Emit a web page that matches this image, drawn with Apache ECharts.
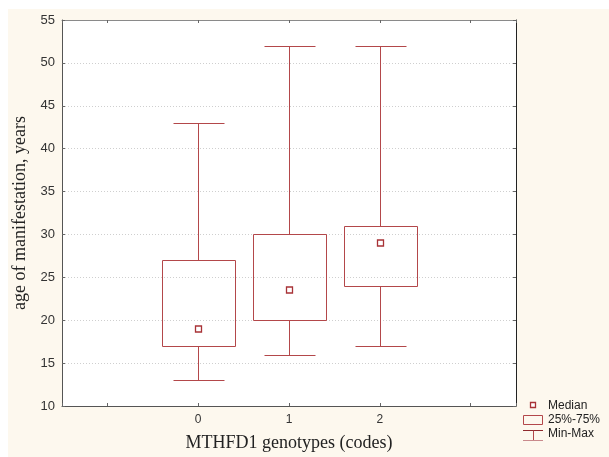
<!DOCTYPE html>
<html>
<head>
<meta charset="utf-8">
<script src="https://cdn.jsdelivr.net/npm/echarts@6/dist/echarts.min.js"></script>
<style>
  html, body { margin: 0; padding: 0; background: #fff; }
  #chart { width: 609px; height: 457px; }
</style>
</head>
<body>
<div id="chart"></div>
<script>
// box plot data
const genotypes = [0, 1, 2];
const minVals = [13, 16, 17];
const q1Vals = [17, 20, 24];
const medianVals = [19, 23.5, 29];
const q3Vals = [27, 30, 31];
const maxVals = [43, 52, 52];
const xTickLabels = ['0', '1', '2'];

const boxColor = '#b3474a';
const sans = '"Liberation Sans", Arial, sans-serif';
const serif = '"Liberation Serif", "Times New Roman", serif';

const rows = genotypes.map((g, i) => [g, minVals[i], q1Vals[i], medianVals[i], q3Vals[i], maxVals[i]]);

function px(v) { return Math.round(v) + 0.5; }

function renderBox(params, api) {
    const x = api.value(0);
    const pMin = api.coord([x, api.value(1)]);
    const pQ1 = api.coord([x, api.value(2)]);
    const pMed = api.coord([x, api.value(3)]);
    const pQ3 = api.coord([x, api.value(4)]);
    const pMax = api.coord([x, api.value(5)]);
    const halfBox = api.size([0.4, 0])[0];
    const halfCap = api.size([0.285, 0])[0];
    const cx = px(pMin[0]);
    const line = (x1, y1, x2, y2) => ({
        type: 'line',
        shape: { x1: x1, y1: y1, x2: x2, y2: y2 },
        style: { stroke: boxColor, lineWidth: 1 }
    });
    return {
        type: 'group',
        children: [
            line(cx, px(pMax[1]), cx, px(pQ3[1])),
            line(cx, px(pQ1[1]), cx, px(pMin[1])),
            line(px(cx - halfCap), px(pMax[1]), px(cx + halfCap), px(pMax[1])),
            line(px(cx - halfCap), px(pMin[1]), px(cx + halfCap), px(pMin[1])),
            {
                type: 'rect',
                shape: {
                    x: px(cx - halfBox), y: px(pQ3[1]),
                    width: Math.round(2 * halfBox), height: Math.round(pQ1[1] - pQ3[1])
                },
                style: { fill: 'none', stroke: boxColor, lineWidth: 1 }
            },
            {
                type: 'rect',
                shape: { x: cx - 3, y: Math.round(pMed[1]) - 3, width: 6, height: 6 },
                style: { fill: '#fff', stroke: '#a83236', lineWidth: 1.3 }
            }
        ]
    };
}

const chart = echarts.init(document.getElementById('chart'));

const xBase = {
    type: 'value',
    min: -1.5,
    max: 3.5,
    splitLine: { show: false },
    axisTick: { show: true, inside: true, length: 3, lineStyle: { color: '#666' } },
};
const yBase = {
    type: 'value',
    min: 10,
    max: 55,
    interval: 5,
    axisTick: { show: true, inside: true, length: 3, lineStyle: { color: '#666' } },
};

chart.setOption({
    backgroundColor: '#fff',
    animation: false,
    grid: {
        left: 62, top: 20, right: 93, bottom: 48,
        show: true, backgroundColor: '#fff', borderWidth: 0
    },
    graphic: [
        {
            type: 'rect', z: -10, silent: true,
            shape: { x: 8, y: 9, width: 601, height: 448 },
            style: { fill: '#fdf8ee' }
        },
        // legend
        {
            type: 'rect',
            shape: { x: 530.5, y: 402.5, width: 5, height: 5 },
            style: { fill: '#fff', stroke: '#a83236', lineWidth: 1.3 }
        },
        {
            type: 'text', x: 548, y: 406,
            style: { text: 'Median', font: '12px ' + sans, fill: '#222', verticalAlign: 'middle' }
        },
        {
            type: 'rect',
            shape: { x: 523.5, y: 415.5, width: 19, height: 9 },
            style: { fill: 'none', stroke: boxColor, lineWidth: 1 }
        },
        {
            type: 'text', x: 548, y: 420,
            style: { text: '25%-75%', font: '12px ' + sans, fill: '#222', verticalAlign: 'middle' }
        },
        {
            type: 'polyline',
            shape: { points: [[523, 430.5], [543, 430.5]] },
            style: { stroke: '#8f2a2d', lineWidth: 1 }
        },
        {
            type: 'polyline',
            shape: { points: [[533.5, 430.5], [533.5, 440.5]] },
            style: { stroke: boxColor, lineWidth: 1 }
        },
        {
            type: 'polyline',
            shape: { points: [[523, 440.5], [543, 440.5]] },
            style: { stroke: '#c98a8c', lineWidth: 1 }
        },
        {
            type: 'text', x: 548, y: 434,
            style: { text: 'Min-Max', font: '12px ' + sans, fill: '#222', verticalAlign: 'middle' }
        }
    ],
    xAxis: [
        Object.assign({}, xBase, {
            position: 'bottom',
            name: 'MTHFD1 genotypes (codes)',
            nameLocation: 'middle',
            nameGap: 28,
            nameTextStyle: { fontFamily: serif, fontSize: 18, color: '#222', verticalAlign: 'top' },
            axisLine: { onZero: false, lineStyle: { color: '#555', width: 1 } },
            axisLabel: {
                margin: 8,
                fontFamily: sans, fontSize: 12, color: '#333',
                formatter: v => {
                    const i = genotypes.indexOf(v);
                    return i >= 0 ? xTickLabels[i] : '';
                }
            }
        }),
        Object.assign({}, xBase, {
            position: 'top',
            axisLine: { onZero: false, lineStyle: { color: '#8a8a8a', width: 1 } },
            axisLabel: { show: false }
        })
    ],
    yAxis: [
        Object.assign({}, yBase, {
            position: 'left',
            name: 'age of manifestation, years',
            nameLocation: 'middle',
            nameGap: 27,
            nameTextStyle: { fontFamily: serif, fontSize: 18, color: '#222' },
            axisLine: { show: true, onZero: false, lineStyle: { color: '#555', width: 1 } },
            axisLabel: { margin: 7, fontFamily: sans, fontSize: 13, color: '#333' },
            splitLine: { show: true, lineStyle: { color: '#cfcfcf', type: [1, 2], width: 1 } }
        }),
        Object.assign({}, yBase, {
            position: 'right',
            axisLine: { show: true, onZero: false, lineStyle: { color: '#222', width: 1 } },
            axisLabel: { show: false },
            splitLine: { show: false }
        })
    ],
    series: [
        {
            type: 'custom',
            name: 'box',
            xAxisIndex: 0,
            yAxisIndex: 0,
            renderItem: renderBox,
            encode: { x: 0, y: [1, 2, 3, 4, 5] },
            data: rows,
            z: 5
        }
    ]
});
</script>
</body>
</html>
